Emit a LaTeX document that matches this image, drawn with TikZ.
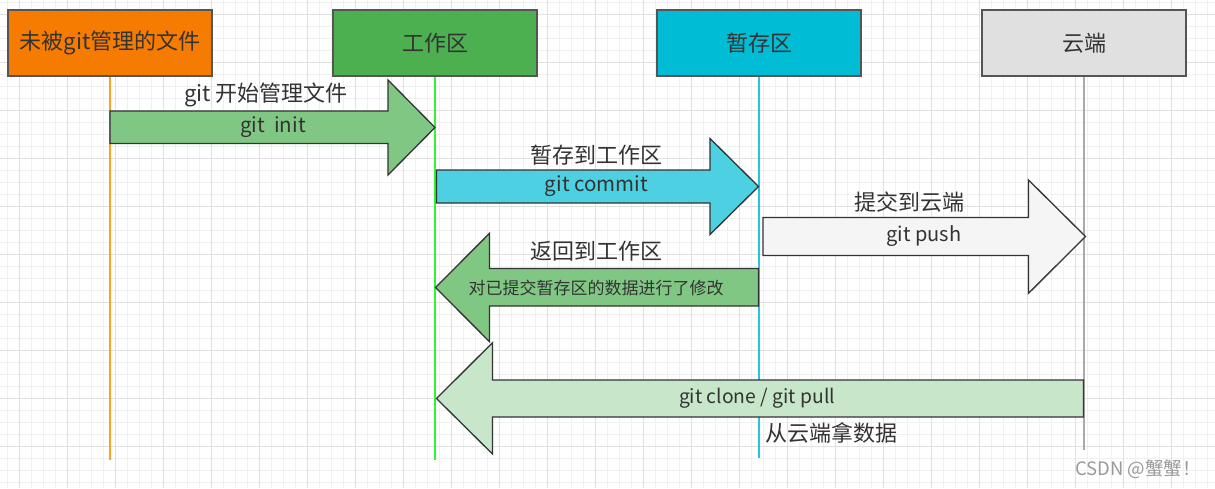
\documentclass[tikz,border=0pt]{standalone}
\usepackage{fontspec}
\setmainfont{Noto Sans CJK SC}
\definecolor{txt}{HTML}{333333}
\definecolor{edge}{HTML}{555555}
\definecolor{arrowedge}{HTML}{333333}
\definecolor{minorg}{HTML}{F0F0F0}
\definecolor{majorg}{HTML}{E0E0E0}
\definecolor{cOrange}{HTML}{F57C00}
\definecolor{cGreen}{HTML}{4CAF50}
\definecolor{cCyan}{HTML}{00BCD4}
\definecolor{cGray}{HTML}{E0E0E0}
\definecolor{lOrange}{HTML}{FFA020}
\definecolor{lGreen}{HTML}{33F533}
\definecolor{lCyan}{HTML}{26C6DA}
\definecolor{lGray}{HTML}{AAAAAA}
\definecolor{aGreen}{HTML}{81C784}
\definecolor{aCyan}{HTML}{4DD0E1}
\definecolor{aWhite}{HTML}{F5F5F5}
\definecolor{aPale}{HTML}{C8E6C9}
\definecolor{wm}{HTML}{9A9A9A}
\begin{document}
\begin{tikzpicture}[x=1pt,y=-1pt,
  box/.style={draw=edge,line width=1.5pt,minimum width=204pt,minimum height=66pt,inner sep=0pt,text=txt,font=\fontsize{22}{26}\selectfont},
  lifeline/.style={line width=1.4pt},
  blockarrow/.style={draw=arrowedge,line width=1.3pt,line join=miter},
  lbl/.style={text=txt,inner sep=0pt,font=\fontsize{22}{26}\selectfont},
  inlbl/.style={text=txt,inner sep=0pt,font=\fontsize{20.5}{24}\selectfont},
  pushlbl/.style={text=txt,inner sep=0pt,font=\fontsize{20}{24}\selectfont},
  pulllbl/.style={text=txt,inner sep=0pt,font=\fontsize{19.3}{23}\selectfont},
  smalllbl/.style={text=txt,inner sep=0pt,font=\fontsize{17}{20}\selectfont},
  minorline/.style={draw=minorg,line width=1pt},
  majorline/.style={draw=majorg,line width=1pt}]
\useasboundingbox (0,0) rectangle (1215,488);
\fill[white] (0,0) rectangle (1215,488);
% grid
\foreach \i in {0,...,101} {\draw[minorline] (7.3+12*\i,0) -- (7.3+12*\i,488);}
\foreach \i in {0,...,40} {\draw[minorline] (0,2.3+12*\i) -- (1215,2.3+12*\i);}
\foreach \i in {0,...,25} {\draw[majorline] (19.3+48*\i,0) -- (19.3+48*\i,488);}
\foreach \i in {0,...,10} {\draw[majorline] (0,14.3+48*\i) -- (1215,14.3+48*\i);}
% boxes
\node[box,fill=cOrange] (untracked) at (110,43) {未被git管理的文件};
\node[box,fill=cGreen] (work) at (435,43) {工作区};
\node[box,fill=cCyan] (stage) at (759,43) {暂存区};
\node[box,fill=cGray] (cloud) at (1084,43) {云端};
% lifeline ends
\coordinate (untrackedEnd) at (110,460);
\coordinate (workEnd) at (435,459.5);
\coordinate (stageEnd) at (759,458);
\coordinate (cloudEnd) at (1084,450);
\draw[lifeline,draw=lOrange] (untracked.south) -- (untrackedEnd);
\draw[lifeline,draw=lGreen] (work.south) -- (workEnd);
\draw[lifeline,draw=lCyan] (stage.south) -- (stageEnd);
\draw[lifeline,draw=lGray] (cloud.south) -- (cloudEnd);
% arrow 1: git init
\draw[blockarrow,fill=aGreen] (110,111) -- (388,111) -- (388,80) -- (435,127.5) -- (388,175) -- (388,143.5) -- (110,143.5) -- cycle;
\node[lbl] (l1) at (266,95) {git 开始管理文件};
\node[inlbl] (i1) at (273,127.5) {git\ \ init};
% arrow 2: git commit
\draw[blockarrow,fill=aCyan] (436.5,170) -- (710,170) -- (710,138.5) -- (758.5,186.5) -- (710,234.5) -- (710,203) -- (436.5,203) -- cycle;
\node[lbl] (l2) at (596.5,155) {暂存到工作区};
\node[inlbl] (i2) at (596.5,186.5) {git commit};
% arrow 3: back to work area
\draw[blockarrow,fill=aGreen] (758.5,268.5) -- (489.5,268.5) -- (489.5,233.3) -- (435.5,287.5) -- (489.5,341.7) -- (489.5,306) -- (758.5,306) -- cycle;
\node[lbl] (l3) at (596.5,251.5) {返回到工作区};
\node[smalllbl] (i3) at (596,287.5) {对已提交暂存区的数据进行了修改};
% arrow 4: git push
\draw[blockarrow,fill=aWhite] (763,217.5) -- (1028.5,217.5) -- (1028.5,180) -- (1085.5,236.5) -- (1028.5,293.3) -- (1028.5,255.5) -- (763,255.5) -- cycle;
\node[lbl] (l4) at (909,202) {提交到云端};
\node[pushlbl] (i4) at (924,236.5) {git push};
% arrow 5: clone / pull
\draw[blockarrow,fill=aPale] (1083.5,380) -- (492.5,380) -- (492.5,342.7) -- (436.5,398.5) -- (492.5,454) -- (492.5,417) -- (1083.5,417) -- cycle;
\node[pulllbl] (i5) at (757,398.5) {git clone / git pull};
\node[lbl] (l5) at (831,432.5) {从云端拿数据};
% watermark
\node[anchor=east,text=wm,inner sep=0pt,font=\fontsize{18.5}{21}\selectfont] (mark) at (1201,469) {CSDN @蟹蟹！};
\end{tikzpicture}
\end{document}
